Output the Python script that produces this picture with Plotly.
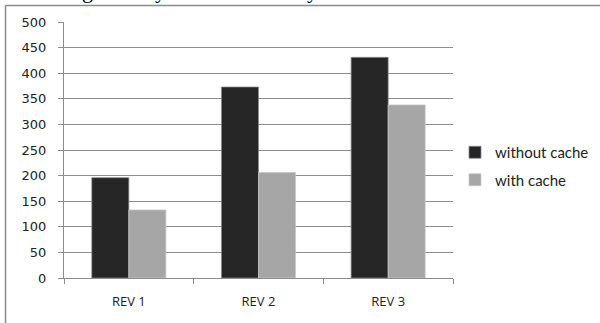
import plotly.graph_objects as go

# Response time per revision, with and without caching
revisions = ["REV 1", "REV 2", "REV 3"]
without_cache = [196, 373, 431]
with_cache = [133, 206, 338]
y_ticks = [0, 50, 100, 150, 200, 250, 300, 350, 400, 450, 500]

W, H = 600, 323
ML, MR, MT, MB = 64, 147, 22, 45
PW, PH = W - ML - MR, H - MT - MB


def px_x(px):
    return (px - ML) / PW


def px_y(py):
    return (H - MB - py) / PH


fig = go.Figure()
fig.add_trace(go.Bar(
    x=revisions, y=without_cache, name="without cache",
    legendgroup="a",
    marker=dict(color="#262626", line=dict(color="#8a8a8a", width=0.75)),
))
fig.add_trace(go.Bar(
    x=revisions, y=with_cache, name="with cache",
    legendgroup="b",
    marker=dict(color="#a6a6a6", line=dict(color="#c8c8c8", width=0.75)),
))

grid = "#8c8c8c"
fig.update_layout(
    width=W, height=H,
    margin=dict(l=ML, r=MR, t=MT, b=MB, autoexpand=False),
    paper_bgcolor="white", plot_bgcolor="white",
    barmode="group", bargap=1.5 / 3.5, bargroupgap=0,
    font=dict(family="DejaVu Sans", size=12, color="#222222"),
    legend=dict(
        x=px_x(455), y=px_y(136), xanchor="left", yanchor="top",
        font=dict(family="Lato", size=15, color="#222222"),
        tracegroupgap=5, itemwidth=30, bgcolor="rgba(0,0,0,0)",
    ),
    showlegend=True,
)
fig.update_xaxes(
    showline=True, linecolor=grid, linewidth=1,
    ticks="outside", tickson="boundaries", ticklen=5, tickcolor=grid,
    showgrid=False, ticklabelstandoff=11,
    tickfont=dict(family="Open Sans", size=13, color="#222222"),
)
fig.update_yaxes(
    range=[0, 500], tickvals=y_ticks,
    showline=True, linecolor=grid, linewidth=1,
    showgrid=True, gridcolor=grid, gridwidth=1, zeroline=False,
    ticks="outside", ticklen=5, tickcolor=grid, ticklabelstandoff=9,
    tickfont=dict(family="DejaVu Sans", size=13, color="#222222"),
)

# Frame around the chart (top and left edges)
frame = dict(color="#8a8a8a", width=1.5)
fig.add_shape(type="line", xref="paper", yref="paper",
              x0=px_x(5.5), x1=px_x(602), y0=px_y(5.5), y1=px_y(5.5), line=frame)
fig.add_shape(type="line", xref="paper", yref="paper",
              x0=px_x(5.5), x1=px_x(5.5), y0=px_y(5.5), y1=px_y(330), line=frame)

# Descenders of the text line running above the chart
for ch, cx in [("g", 87), ("y", 160), ("y", 312)]:
    fig.add_annotation(
        text=ch, xref="paper", yref="paper", x=px_x(cx), y=px_y(-10),
        xanchor="center", yanchor="middle", showarrow=False,
        font=dict(family="Liberation Serif", size=22, color="#000000"),
    )

fig.write_html("out.html")
